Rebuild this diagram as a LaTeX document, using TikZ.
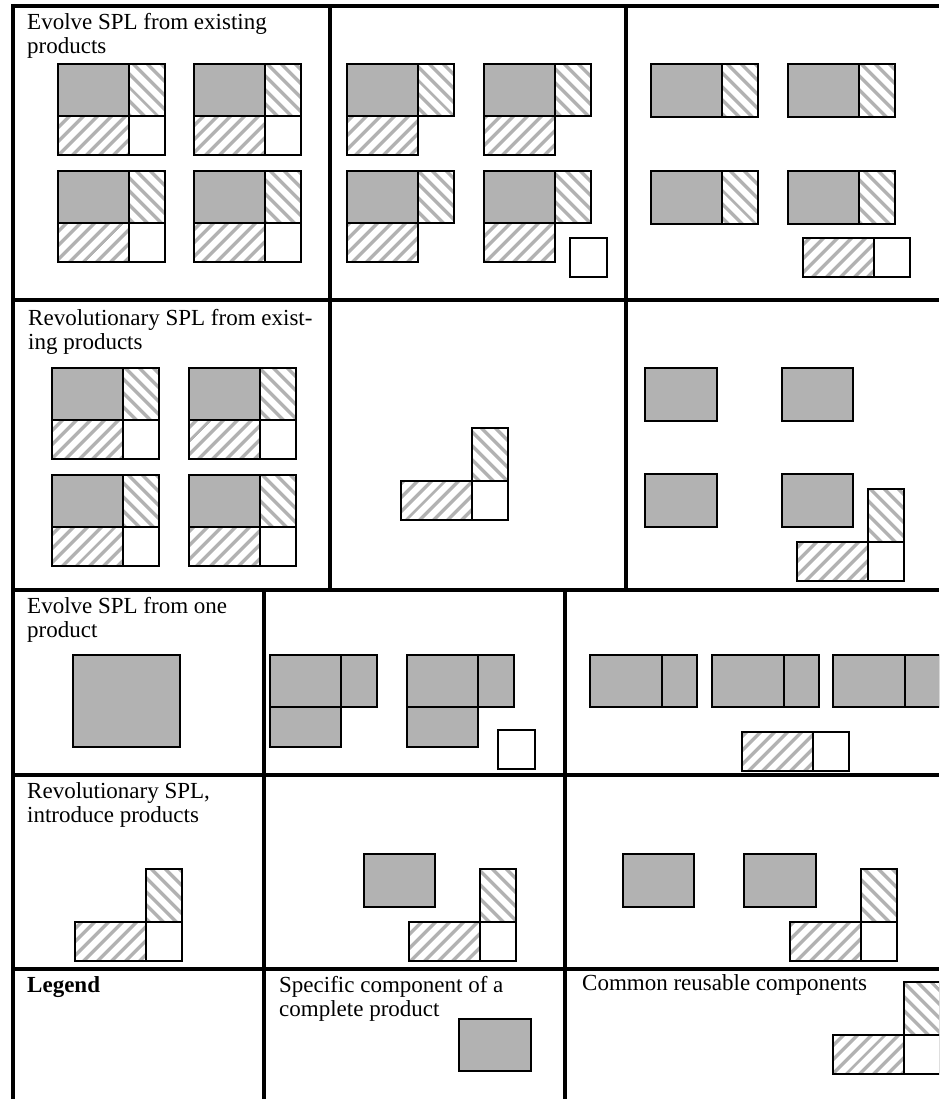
\documentclass[tikz,border=0pt]{standalone}
\usepackage{fontspec}
\setmainfont{Liberation Serif}
\usetikzlibrary{patterns.meta}
\definecolor{compgray}{RGB}{178,178,178}
\definecolor{stripe}{RGB}{178,178,178}
\begin{document}
\begin{tikzpicture}[x=1pt,y=-1pt,
  grid/.style={line width=4pt,draw=black},
  box/.style={draw=black,line width=1.8pt},
  spec/.style={box,fill=compgray},
  hatchA/.style={box,pattern={Lines[angle=-45,distance=10.5pt,line width=3.8pt]},pattern color=stripe},
  hatchB/.style={box,pattern={Lines[angle=45,distance=10.5pt,line width=3.8pt]},pattern color=stripe},
  plain/.style={box,fill=white},
  celltext/.style={anchor=base west,inner sep=0pt,align=left,font=\fontsize{23}{24}\selectfont},
  fullprod/.pic={
    \path[spec] (0,0) rectangle (71,52);
    \path[hatchA] (71,0) rectangle (107,52);
    \path[hatchB] (0,52) rectangle (71,91);
    \path[plain] (71,52) rectangle (107,91);},
  threeprod/.pic={
    \path[spec] (0,0) rectangle (71,52);
    \path[hatchA] (71,0) rectangle (107,52);
    \path[hatchB] (0,52) rectangle (71,91);},
  twoprod/.pic={
    \path[spec] (0,0) rectangle (71,53);
    \path[hatchA] (71,0) rectangle (107,53);},
  grayprod/.pic={
    \path[spec] (0,0) rectangle (71,52);
    \path[spec] (71,0) rectangle (107,52);
    \path[spec] (0,52) rectangle (71,92);},
  graypair/.pic={
    \path[spec] (0,0) rectangle (72,52);
    \path[spec] (72,0) rectangle (107,52);},
  common/.pic={
    \path[hatchA] (71,0) rectangle (107,53);
    \path[hatchB] (0,53) rectangle (71,92);
    \path[plain] (71,53) rectangle (107,92);},
  bottombar/.pic={
    \path[hatchB] (0,0) rectangle (71,39);
    \path[plain] (71,0) rectangle (107,39);}
]
\useasboundingbox (0,0) rectangle (939,1099);
\clip (0,0) rectangle (939,1099);

% table grid
\draw[grid] (11,6) -- (939,6);
\draw[grid] (13,4) -- (13,1099);
\draw[grid] (330,6) -- (330,590);
\draw[grid] (626,6) -- (626,590);
\draw[grid] (13,300) -- (939,300);
\draw[grid] (13,590) -- (939,590);
\draw[grid] (264,590) -- (264,1099);
\draw[grid] (565,590) -- (565,1099);
\draw[grid] (13,775) -- (939,775);
\draw[grid] (13,969) -- (939,969);

% texts (base anchor = baseline of last line)
\node[celltext] (t1) at (27,54) {Evolve SPL from existing\\products};
\node[celltext] (t2) at (28,349) {Revolutionary SPL from exist-\\ing products};
\node[celltext] (t3) at (27,637) {Evolve SPL from one\\product};
\node[celltext] (t4) at (27,822) {Revolutionary SPL,\\introduce products};
\node[celltext,font={\fontsize{23}{24}\selectfont\bfseries}] (t5) at (27,992) {Legend};
\node[celltext] (t6) at (279,1016) {Specific component of a\\complete product};
\node[celltext] (t7) at (582,990) {Common reusable components};

% row 1
\pic at (58,64) {fullprod};
\pic at (194,64) {fullprod};
\pic at (58,171) {fullprod};
\pic at (194,171) {fullprod};

\pic at (347,64) {threeprod};
\pic at (484,64) {threeprod};
\pic at (347,171) {threeprod};
\pic at (484,171) {threeprod};
\path[plain] (570,238) rectangle (607,277);

\pic at (651,64) {twoprod};
\pic at (788,64) {twoprod};
\pic at (651,171) {twoprod};
\pic at (788,171) {twoprod};
\pic at (803,238) {bottombar};

% row 2
\pic at (52,368) {fullprod};
\pic at (189,368) {fullprod};
\pic at (52,475) {fullprod};
\pic at (189,475) {fullprod};

\pic at (401,428) {common};

\path[spec] (645,368) rectangle (717,421);
\path[spec] (782,368) rectangle (853,421);
\path[spec] (645,474) rectangle (717,527);
\path[spec] (782,474) rectangle (853,527);
\pic at (797,489) {common};

% row 3
\path[spec] (73,655) rectangle (180,747);
\pic at (270,655) {grayprod};
\pic at (407,655) {grayprod};
\path[plain] (498,730) rectangle (535,769);

\pic at (590,655) {graypair};
\pic at (712,655) {graypair};
\pic at (833,655) {graypair};
\pic at (742,732) {bottombar};

% row 4
\pic at (75,869) {common};
\path[spec] (364,854) rectangle (435,907);
\pic at (409,869) {common};
\path[spec] (623,854) rectangle (694,907);
\path[spec] (744,854) rectangle (816,907);
\pic at (790,869) {common};

% row 5 legend
\path[spec] (459,1019) rectangle (531,1071);
\pic at (833,982) {common};
\end{tikzpicture}
\end{document}
